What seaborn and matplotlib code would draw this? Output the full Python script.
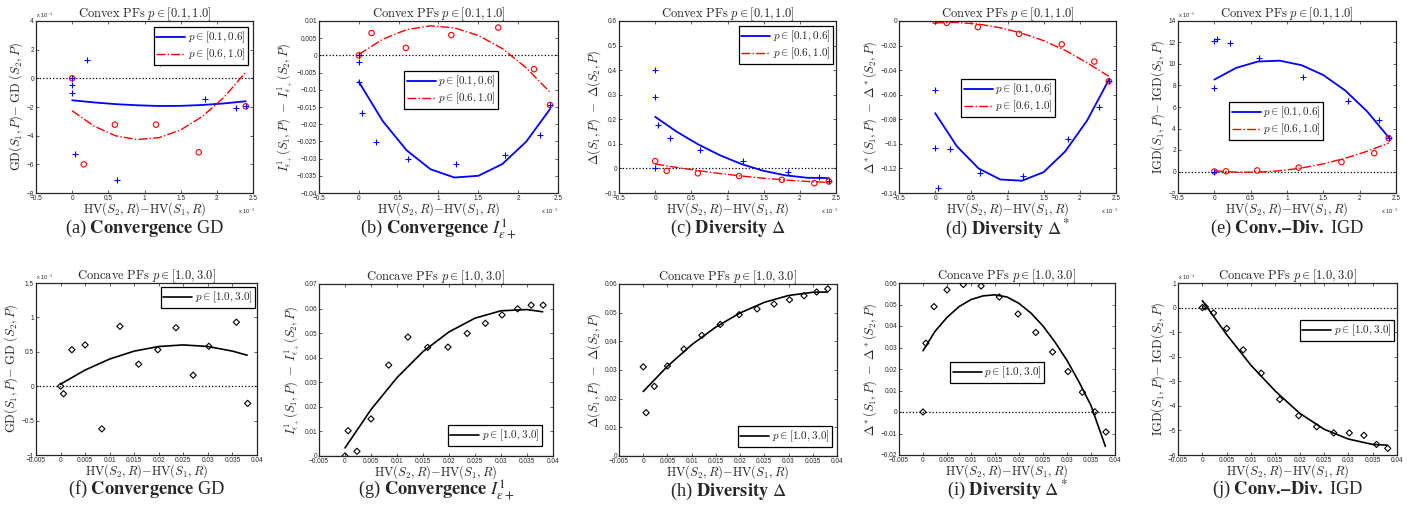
import numpy as np
import matplotlib
matplotlib.use("Agg")
import matplotlib.pyplot as plt
from matplotlib.ticker import MultipleLocator, FuncFormatter
import seaborn as sns

sns.set_style("ticks")
plt.rcParams['font.family'] = ['Liberation Sans', 'DejaVu Sans']
plt.rcParams['mathtext.fontset'] = 'cm'

# ---- convex PFs, x in units of 1e-3 ----
cvx_blue_x = [0, 0, 0, 0.04, 0.21, 0.62, 1.22, 1.84, 2.27, 2.40]
cvx_red_x = [0, 0.16, 0.59, 1.16, 1.75, 2.20, 2.40]
cvx_fit_x = [0, 0.3, 0.6, 0.9, 1.2, 1.5, 1.8, 2.1, 2.4]

# (a) GD, y in units of 1e-4
gd_red_x = [0, 0.16, 0.59, 1.16, 1.75, 2.40]
gd_blue = [0, -0.5, -1.0, -5.3, 1.3, -7.07, 1.05, -1.44, -2.09, -1.95]
gd_red = [0, -6.0, -3.23, -3.23, -5.16, -1.95]
gd_blue_fit = [-1.53, -1.68, -1.80, -1.88, -1.93, -1.92, -1.86, -1.75, -1.60]
gd_red_fit = [-2.26, -3.33, -4.01, -4.27, -4.14, -3.60, -2.66, -1.32, 0.43]

# (b) I_eps+
eps_blue = [0, -0.0020, -0.0078, -0.0166, -0.0251, -0.0302, -0.0315, -0.0290, -0.0230, -0.0144]
eps_red = [0, 0.0065, 0.0022, 0.0059, 0.0081, -0.0040, -0.0144]
eps_blue_fit = [-0.0077, -0.0191, -0.0276, -0.0331, -0.0355, -0.0350, -0.0316, -0.0251, -0.0156]
eps_red_fit = [0.0003, 0.0047, 0.0075, 0.0086, 0.0080, 0.0058, 0.0020, -0.0036, -0.0107]

# (c) Delta
dl_blue = [0.40, 0.29, 0, 0.178, 0.122, 0.073, 0.030, -0.015, -0.034, -0.053]
dl_red = [0.030, -0.010, -0.020, -0.031, -0.046, -0.060, -0.053]
dl_blue_fit = [0.210, 0.149, 0.097, 0.053, 0.017, -0.010, -0.028, -0.038, -0.0395]
dl_red_fit = [0.018, 0.004, -0.009, -0.021, -0.031, -0.040, -0.047, -0.053, -0.057]

# (d) Delta*
ds_blue = [0, -0.056, -0.103, -0.136, -0.104, -0.124, -0.126, -0.096, -0.070, -0.049]
ds_red = [0, -0.0016, -0.005, -0.0104, -0.019, -0.033, -0.049]
ds_blue_fit = [-0.075, -0.102, -0.120, -0.129, -0.130, -0.123, -0.106, -0.081, -0.048]
ds_red_fit = [-0.0015, -0.0012, -0.0025, -0.0055, -0.010, -0.016, -0.024, -0.034, -0.045]

# (e) IGD, y in units of 1e-5
igd_blue = [0, 12.1, 7.75, 12.35, 11.95, 10.55, 8.8, 6.6, 4.8, 3.1]
igd_red = [0, 0.02, 0.1, 0.36, 0.88, 1.7, 3.1]
igd_blue_fit = [8.55, 9.64, 10.23, 10.31, 9.89, 8.97, 7.54, 5.61, 3.17]
igd_red_fit = [0.06, -0.064, -0.064, 0.065, 0.324, 0.712, 1.229, 1.875, 2.65]

# ---- concave PFs ----
ccv_x = [0, 0.0006, 0.0023, 0.0050, 0.0084, 0.0121, 0.0159, 0.0198,
         0.0235, 0.0270, 0.0302, 0.0332, 0.0358, 0.0381]
ccv_fit_x = [0, 0.005, 0.01, 0.015, 0.02, 0.025, 0.03, 0.035, 0.038]

# (f) GD, y in units of 1e-3 (no point visible at 0.0332)
cgd_x = [0, 0.0006, 0.0023, 0.0050, 0.0084, 0.0121, 0.0159, 0.0198,
         0.0235, 0.0270, 0.0302, 0.0358, 0.0381]
cgd = [0, -0.11, 0.53, 0.60, -0.62, 0.87, 0.32, 0.53, 0.85, 0.16, 0.58, 0.93, -0.25]
cgd_fit = [0.03, 0.235, 0.395, 0.51, 0.577, 0.60, 0.577, 0.51, 0.45]

# (g) I_eps+
ceps = [0, 0.0103, 0.0019, 0.0151, 0.0370, 0.0484, 0.0442, 0.0443,
        0.0499, 0.0540, 0.0574, 0.0599, 0.0614, 0.0614]
ceps_fit = [0.0033, 0.0189, 0.0319, 0.0425, 0.0505, 0.0561, 0.0591, 0.0596, 0.0587]

# (h) Delta
cdl = [0.0311, 0.0151, 0.0243, 0.0314, 0.0373, 0.0421, 0.0459, 0.0493,
       0.0513, 0.0530, 0.0545, 0.0559, 0.0572, 0.0583]
cdl_fit = [0.0225, 0.0313, 0.0388, 0.0450, 0.0499, 0.0536, 0.0560, 0.0571, 0.0572]

# (i) Delta*
cds = [0, 0.0320, 0.0490, 0.0568, 0.0593, 0.0586, 0.0535, 0.0456,
       0.0370, 0.0279, 0.0188, 0.0092, 0.0001, -0.0093]
cds_fit_x = [0, 0.0025, 0.005, 0.0075, 0.01, 0.0125, 0.015, 0.0175, 0.02,
             0.0225, 0.025, 0.0275, 0.03, 0.0325, 0.035, 0.038]
cds_fit = [0.0285, 0.0375, 0.0440, 0.0490, 0.0523, 0.0540, 0.0545, 0.0535, 0.0505,
           0.0460, 0.0400, 0.0325, 0.0240, 0.0140, 0.0030, -0.0160]

# (j) IGD, y in units of 1e-4
cigd = [0, 0.03, -0.22, -0.85, -1.72, -2.67, -3.74, -4.40,
        -4.85, -5.10, -5.10, -5.20, -5.57, -5.73]
cigd_fit = [0.28, -1.1, -2.35, -3.4, -4.3, -4.95, -5.35, -5.57, -5.6]

LBL_LO = r'$p \in [0.1, 0.6]$'
LBL_HI = r'$p \in [0.6, 1.0]$'
LBL_CC = r'$p \in [1.0, 3.0]$'
T_CVX = r'$\mathrm{Convex\ PFs}\ p \in [0.1, 1.0]$'
T_CCV = r'$\mathrm{Concave\ PFs}\ p \in [1.0, 3.0]$'
XLAB = r'$\mathrm{HV}(S_2, R){-}\mathrm{HV}(S_1, R)$'

W, H = 1411, 508
fig = plt.figure(figsize=(W / 100, H / 100), dpi=100)
fmt = FuncFormatter(lambda v, p: ('%g' % round(v, 6)).replace('-', '\u2212'))


def make_ax(box, xlim, xstep, ylim, ystep, title, ylabel, yexp=None, xexp=None):
    l, t, r, b = box
    ax = fig.add_axes([l / W, 1 - b / H, (r - l) / W, (b - t) / H])
    ax.set_xlim(*xlim)
    ax.set_ylim(*ylim)
    ax.xaxis.set_major_locator(MultipleLocator(xstep))
    ax.yaxis.set_major_locator(MultipleLocator(ystep))
    ax.xaxis.set_major_formatter(fmt)
    ax.yaxis.set_major_formatter(fmt)
    ax.tick_params(direction='in', top=True, right=True, length=2.5, width=0.5,
                   labelsize=4.7, pad=1.5)
    for s in ax.spines.values():
        s.set_linewidth(0.9)
    ax.set_title(title, fontsize=9, pad=2.5)
    ax.set_ylabel(ylabel, fontsize=9, labelpad=1)
    ax.set_xlabel(XLAB, fontsize=9, labelpad=-1)
    ax.axhline(0, color='black', ls=':', lw=0.9, zorder=1)
    if yexp:
        ax.text(0, 1.008, 'x 10$^{%s}$' % yexp, transform=ax.transAxes,
                fontsize=4, ha='left', va='bottom')
    if xexp:
        ax.text(0.93, -0.075, 'x 10$^{%s}$' % xexp, transform=ax.transAxes,
                fontsize=4, ha='left', va='top')
    return ax


def plus(ax, x, y):
    sns.scatterplot(x=x, y=y, marker='+', color='blue', s=16, linewidth=0.8,
                    ax=ax, legend=False, zorder=3)


def ring(ax, x, y):
    sns.scatterplot(x=x, y=y, marker='o', facecolor='none', edgecolor='red', s=15,
                    linewidth=0.8, ax=ax, legend=False, zorder=3)


def diam(ax, x, y):
    sns.scatterplot(x=x, y=y, marker='D', facecolor='none', edgecolor='black', s=10,
                    linewidth=0.8, ax=ax, legend=False, zorder=3)


def two_curves(ax, blue_y, red_y):
    sns.lineplot(x=cvx_fit_x, y=blue_y, color='blue', lw=1.3, ax=ax, label=LBL_LO)
    sns.lineplot(x=cvx_fit_x, y=red_y, color='red', lw=1.0, linestyle='-.', ax=ax,
                 label=LBL_HI)


def legend(ax, loc, anchor, pad=0):
    leg = ax.legend(loc=loc, bbox_to_anchor=anchor, borderaxespad=pad, fontsize=8,
                    fancybox=False, framealpha=1, edgecolor='black', handlelength=2.6,
                    handletextpad=0.2, borderpad=0.25, labelspacing=0.15)
    leg.get_frame().set_linewidth(0.9)


def caption(box, y, text):
    l, t, r, b = box
    fig.text((l + r) / 2 / W, 1 - y / H, text, ha='center', va='center', fontsize=13.2,
             family='Liberation Serif', math_fontfamily='stix')


cvx_xlim = (-0.5, 2.5)
ccv_xlim = (-0.005, 0.04)
CAP1, CAP2 = 228, 489
CONVDIV = '$\\mathbf{Conv.\\!\u2013Div.}$ IGD'

# (a)
box = (36, 21, 253, 193)
ax = make_ax(box, cvx_xlim, 0.5, (-8, 4), 2, T_CVX,
             r'$\mathrm{GD}(S_1, P){-}\ \mathrm{GD}\ (S_2, P)$', '-4', '-3')
two_curves(ax, gd_blue_fit, gd_red_fit)
ring(ax, gd_red_x, gd_red)
plus(ax, cvx_blue_x, gd_blue)
legend(ax, 'upper right', (0.977, 0.965))
caption(box, CAP1, r'(a) $\mathbf{Convergence}$ GD')

# (b)
box = (319, 21, 558, 193)
ax = make_ax(box, cvx_xlim, 0.5, (-0.04, 0.01), 0.005, T_CVX,
             r'$I^1_{\epsilon_+}(S_1, P)\ -\ I^1_{\epsilon_+}(S_2, P)$', None, '-3')
two_curves(ax, eps_blue_fit, eps_red_fit)
ring(ax, cvx_red_x, eps_red)
plus(ax, cvx_blue_x, eps_blue)
legend(ax, 'upper left', (0.356, 0.709))
caption(box, CAP1 + 2, r'(b) $\mathbf{Convergence}$ $I^1_{\epsilon+}$')

# (c)
box = (619, 21, 836, 193)
ax = make_ax(box, cvx_xlim, 0.5, (-0.1, 0.6), 0.1, T_CVX,
             r'$\Delta(S_1, P)\ -\ \Delta(S_2, P)$', None, '-3')
two_curves(ax, dl_blue_fit, dl_red_fit)
ring(ax, cvx_red_x, dl_red)
plus(ax, cvx_blue_x, dl_blue)
legend(ax, 'upper right', (0.986, 0.971))
caption(box, CAP1, r'(c) $\mathbf{Diversity}$ $\Delta$')

# (d)
box = (899, 21, 1116, 193)
ax = make_ax(box, cvx_xlim, 0.5, (-0.14, 0), 0.02, T_CVX,
             r'$\Delta^*(S_1, P)\ -\ \Delta^*(S_2, P)$', None, '-3')
two_curves(ax, ds_blue_fit, ds_red_fit)
ring(ax, cvx_red_x, ds_red)
plus(ax, cvx_blue_x, ds_blue)
legend(ax, 'upper left', (0.286, 0.663))
caption(box, CAP1 + 1, r'(d) $\mathbf{Diversity}$ $\Delta^*$')

# (e)
box = (1178, 21, 1396, 193)
ax = make_ax(box, cvx_xlim, 0.5, (-2, 14), 2, T_CVX,
             r'$\mathrm{IGD}(S_1, P){-}\ \mathrm{IGD}(S_2, P)$', '-5', '-3')
two_curves(ax, igd_blue_fit, igd_red_fit)
ring(ax, cvx_red_x, igd_red)
plus(ax, cvx_blue_x, igd_blue)
legend(ax, 'upper left', (0.234, 0.529))
caption(box, CAP1, '(e) ' + CONVDIV)

# (f)
box = (36, 283, 257, 455)
ax = make_ax(box, ccv_xlim, 0.005, (-1, 1.5), 0.5, T_CCV,
             r'$\mathrm{GD}(S_1, P){-}\ \mathrm{GD}\ (S_2, P)$', '-3')
sns.lineplot(x=ccv_fit_x, y=cgd_fit, color='black', lw=1.2, ax=ax, label=LBL_CC)
diam(ax, cgd_x, cgd)
legend(ax, 'upper right', (0.991, 0.977))
caption(box, CAP2, r'(f) $\mathbf{Convergence}$ GD')

# (g)
box = (319, 284, 553, 456)
ax = make_ax(box, ccv_xlim, 0.005, (0, 0.07), 0.01, T_CCV,
             r'$I^1_{\epsilon_+}(S_1, P)\ -\ I^1_{\epsilon_+}(S_2, P)$')
sns.lineplot(x=ccv_fit_x, y=ceps_fit, color='black', lw=1.2, ax=ax, label=LBL_CC)
diam(ax, ccv_x, ceps)
legend(ax, 'lower right', (0.953, 0.058))
caption(box, CAP2 + 2, r'(g) $\mathbf{Convergence}$ $I^1_{\epsilon+}$')

# (h)
box = (619, 284, 837, 456)
ax = make_ax(box, ccv_xlim, 0.005, (0, 0.06), 0.01, T_CCV,
             r'$\Delta(S_1, P)\ -\ \Delta(S_2, P)$')
sns.lineplot(x=ccv_fit_x, y=cdl_fit, color='black', lw=1.2, ax=ax, label=LBL_CC)
diam(ax, ccv_x, cdl)
legend(ax, 'lower right', (0.977, 0.052))
caption(box, CAP2 + 2, r'(h) $\mathbf{Diversity}$ $\Delta$')

# (i)
box = (899, 283, 1115, 455)
ax = make_ax(box, ccv_xlim, 0.005, (-0.02, 0.06), 0.01, T_CCV,
             r'$\Delta^*(S_1, P)\ -\ \Delta^*(S_2, P)$')
sns.lineplot(x=cds_fit_x, y=cds_fit, color='black', lw=1.2, ax=ax, label=LBL_CC)
diam(ax, ccv_x, cds)
legend(ax, 'upper left', (0.236, 0.541))
caption(box, CAP2 + 1, r'(i) $\mathbf{Diversity}$ $\Delta^*$')

# (j)
box = (1178, 283, 1397, 455)
ax = make_ax(box, ccv_xlim, 0.005, (-6, 1), 1, T_CCV,
             r'$\mathrm{IGD}(S_1, P){-}\ \mathrm{IGD}(S_2, P)$', '-4')
sns.lineplot(x=ccv_fit_x, y=cigd_fit, color='black', lw=1.2, ax=ax, label=LBL_CC)
diam(ax, ccv_x, cigd)
legend(ax, 'upper right', (0.986, 0.785))
caption(box, CAP2, '(j) ' + CONVDIV)

fig.savefig('out.png', dpi=100, facecolor='white')
